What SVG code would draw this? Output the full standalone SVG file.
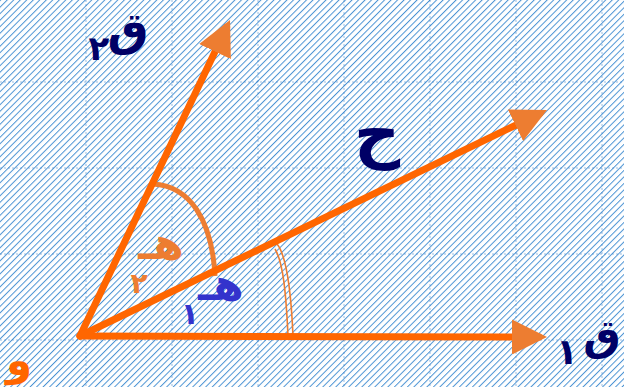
<svg xmlns="http://www.w3.org/2000/svg" width="624" height="387" viewBox="0 0 624 387">
  <style>
    .ray { stroke: #FF6600; stroke-width: 7; fill: none; stroke-linecap: round; marker-end: url(#head); }
    .arc { stroke: #ED7D31; fill: none; }
    .lbl { font-family: "DejaVu Sans", "Noto Sans", sans-serif; font-weight: bold; }
    .navy { fill: #000066; }
    .grid { stroke: #1F6FBF; stroke-width: 1; stroke-dasharray: 2 2; opacity: 0.45; }
  </style>
  <defs>
    <pattern id="hatch" width="4.6" height="4.6" patternUnits="userSpaceOnUse" patternTransform="rotate(45)">
      <rect width="4.6" height="4.6" fill="#FFFFFF"/>
      <line x1="0" y1="0" x2="0" y2="4.6" stroke="#4C94D4" stroke-width="2"/>
    </pattern>
    <marker id="head" viewBox="0 0 35 35" refX="27" refY="17.5" markerWidth="35" markerHeight="35" markerUnits="userSpaceOnUse" orient="auto">
      <path d="M0,0 L35,17.5 L0,35 Z" fill="#ED7D31"/>
    </marker>
  </defs>

  <rect width="624" height="387" fill="url(#hatch)"/>
  <g id="grid">
    <line class="grid" x1="86" y1="0" x2="86" y2="387"/>
    <line class="grid" x1="172" y1="0" x2="172" y2="387"/>
    <line class="grid" x1="258" y1="0" x2="258" y2="387"/>
    <line class="grid" x1="344" y1="0" x2="344" y2="387"/>
    <line class="grid" x1="430" y1="0" x2="430" y2="387"/>
    <line class="grid" x1="516" y1="0" x2="516" y2="387"/>
    <line class="grid" x1="602" y1="0" x2="602" y2="387"/>
    <line class="grid" x1="0" y1="82" x2="624" y2="82"/>
    <line class="grid" x1="0" y1="168" x2="624" y2="168"/>
    <line class="grid" x1="0" y1="254" x2="624" y2="254"/>
    <line class="grid" x1="0" y1="340" x2="624" y2="340"/>
  </g>

  <g id="angle-marks">
    <path class="arc" stroke-width="5" d="M153,184 C190,186 212,220 215,276"/>
    <path class="arc" stroke-width="1.6" d="M277,244 C287,256 291,290 293,336"/>
    <path class="arc" stroke-width="1.6" d="M275,249 C283,262 286,292 288,336"/>
  </g>

  <g id="connectors">
    <line class="ray" x1="80" y1="336" x2="539" y2="337"/>
    <line class="ray" x1="80" y1="336" x2="226.6" y2="27.2"/>
    <line class="ray" x1="80" y1="336" x2="539.8" y2="113.5"/>
  </g>

  <g id="label-q2">
    <text class="lbl navy" x="128" y="45" font-size="46" text-anchor="middle">ق</text>
    <text class="lbl navy" x="99" y="60" font-size="34" text-anchor="middle">٢</text>
  </g>
  <g id="label-h">
    <text class="lbl navy" x="377" y="155" font-size="64" text-anchor="middle">ح</text>
  </g>
  <g id="label-q1">
    <text class="lbl navy" x="602" y="350" font-size="42" text-anchor="middle">ق</text>
    <text class="lbl navy" x="567" y="364" font-size="36" text-anchor="middle">١</text>
  </g>
  <g id="label-o">
    <text class="lbl" x="19" y="375" font-size="42" text-anchor="middle" fill="#FF6600">و</text>
  </g>
  <g id="label-e2">
    <text class="lbl" x="161" y="259" font-size="44" text-anchor="middle" fill="#ED7D31">هـ</text>
    <text class="lbl" x="139" y="293" font-size="28" text-anchor="middle" fill="#ED7D31">٢</text>
  </g>
  <g id="label-e1">
    <text class="lbl" x="221" y="300" font-size="44" text-anchor="middle" fill="#3333CC">هـ</text>
    <text class="lbl" x="190" y="324" font-size="30" text-anchor="middle" fill="#3333CC">١</text>
  </g>
</svg>
